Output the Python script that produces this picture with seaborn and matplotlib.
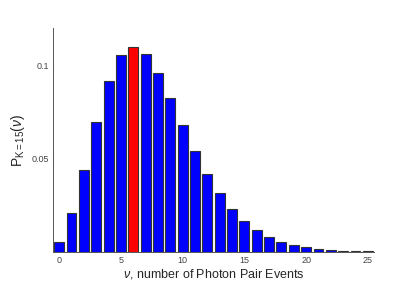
import numpy as np
import pandas as pd
import matplotlib
matplotlib.use("Agg")
import matplotlib.pyplot as plt
import seaborn as sns

# photon pair number distribution, K = 15 modes
nu = list(range(26))
prob = [0.0055, 0.0209, 0.0439, 0.0698, 0.0916, 0.1054, 0.1097, 0.1059,
        0.0959, 0.0827, 0.0681, 0.0541, 0.0418, 0.0314, 0.0230, 0.0166,
        0.0116, 0.0082, 0.0055, 0.0037, 0.0025, 0.0016, 0.0011, 0.0007,
        0.0004, 0.0003]
peak = 6

df = pd.DataFrame({"nu": nu, "p": prob})
df["kind"] = np.where(df["nu"] == peak, "peak", "other")

sns.set_style("white")
plt.rcParams["font.family"] = ["Liberation Sans", "DejaVu Sans"]
plt.rcParams["mathtext.fontset"] = "custom"
plt.rcParams["mathtext.rm"] = "Liberation Sans"
plt.rcParams["mathtext.it"] = "Liberation Sans:italic"

fig = plt.figure(figsize=(4.11, 2.91), dpi=100)
ax = fig.add_axes([0.129, 0.134, 0.781, 0.770])
sns.barplot(data=df, x="nu", y="p", hue="kind",
            palette={"peak": "#ff0000", "other": "#0000ff"},
            saturation=1, width=0.8, edgecolor="#333333", linewidth=0.8,
            legend=False, ax=ax)

ax.set_xlim(-0.5, 25.5)
ax.set_ylim(0, 0.12)
ax.set_xticks([0, 5, 10, 15, 20, 25])
ax.set_xticklabels(["0", "5", "10", "15", "20", "25"])
ax.set_yticks([0.05, 0.1])
ax.set_yticklabels(["0.05", "0.1"])
ax.tick_params(direction="in", length=3, width=0.6, labelsize=6.5,
               colors="#444444", pad=3)
for s in ["top", "right"]:
    ax.spines[s].set_visible(False)
for s in ["left", "bottom"]:
    ax.spines[s].set_color("#555555")
    ax.spines[s].set_linewidth(0.7)

ax.set_xlabel(r"$\nu$, number of Photon Pair Events", fontsize=9, labelpad=1)
ax.set_ylabel(r"P$_{\mathrm{K=15}}(\nu)$", fontsize=10, labelpad=3)

fig.savefig("out.png", dpi=100)
